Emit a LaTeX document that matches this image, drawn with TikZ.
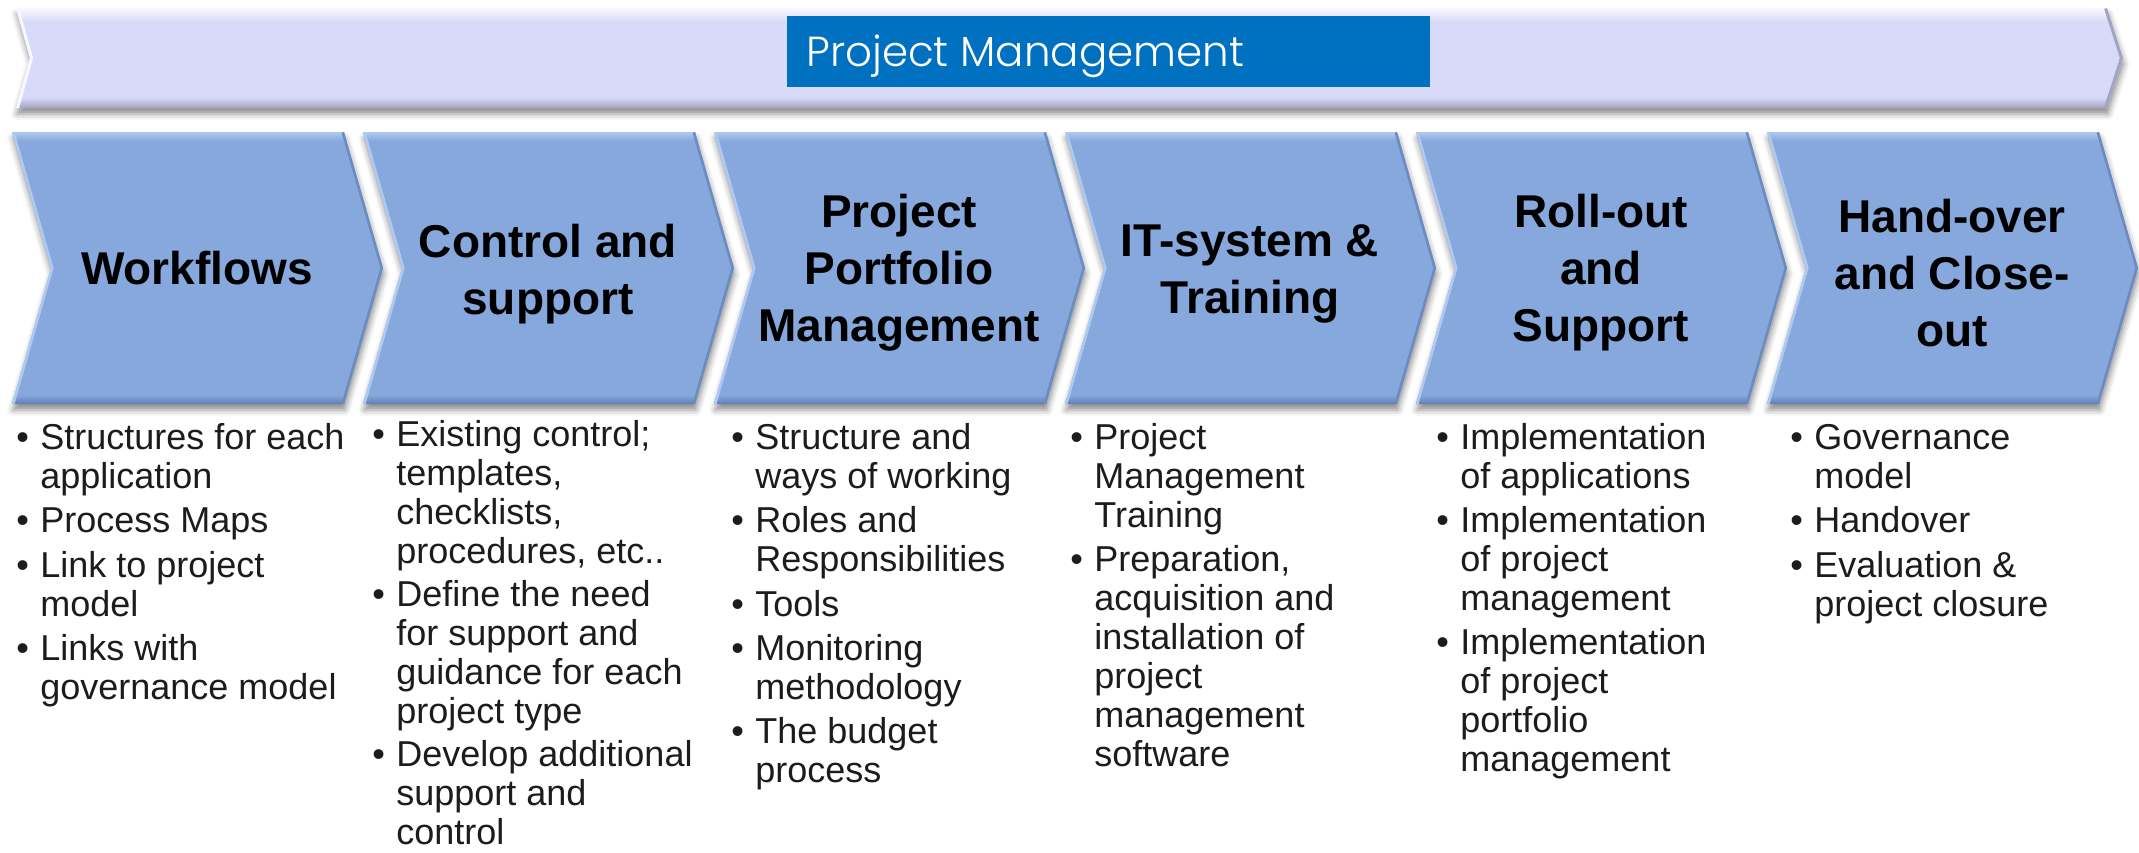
\documentclass[tikz,border=0pt]{standalone}
\usepackage{fontspec}
\setmainfont{Liberation Sans}
\newfontfamily\titlefont{Poppins Light}
\usetikzlibrary{shadows.blur}

\definecolor{chevfill}{RGB}{134,168,220}
\definecolor{chevlight}{RGB}{176,201,240}
\definecolor{chevdark}{RGB}{96,126,182}
\definecolor{bannerfill}{RGB}{217,217,250}
\definecolor{bannerlight}{RGB}{248,248,255}
\definecolor{bannerdark}{RGB}{164,164,194}
\definecolor{titleblue}{RGB}{0,112,192}
\definecolor{notetext}{RGB}{28,28,28}

\tikzset{
  stagelabel/.style={align=center, inner sep=0pt, text=black,
    font=\fontsize{23}{28.5}\selectfont\bfseries},
  notes/.style={anchor=north west, inner sep=0pt, text=notetext,
    font=\fontsize{18}{19.45}\selectfont},
  softshadow/.style={blur shadow={shadow xshift=0.5pt, shadow yshift=-3pt,
    shadow blur radius=3pt, shadow opacity=45}},
}

% one chevron of the process row, left edge at #1
\newcommand\chevronpath[1]{(#1,132) -- ++(332,0) -- ++(39,136) -- ++(-39,136)
  -- ++(-332,0) -- ++(39,-136) -- cycle}

\begin{document}
\begin{tikzpicture}[x=0.5pt,y=-0.5pt]
\useasboundingbox (0,0) rectangle (2139,852);

% banner arrow
\path[fill=bannerfill, softshadow]
  (16,8) -- (2107,8) -- (2123,58) -- (2107,108) -- (16,108) -- (30,58) -- cycle;
\begin{scope}
  \clip (16,8) -- (2107,8) -- (2123,58) -- (2107,108) -- (16,108) -- (30,58) -- cycle;
  \shade[top color=bannerlight, bottom color=bannerfill] (0,8) rectangle (2139,22);
  \shade[top color=bannerfill, bottom color=bannerdark] (0,97) rectangle (2139,108);
  \draw[bannerlight, line width=3pt] (16,8) -- (30,58) -- (16,108);
  \draw[bannerdark, line width=3pt] (2107,8) -- (2123,58) -- (2107,108);
\end{scope}

% title box
\node[fill=titleblue, inner sep=0pt, minimum width=321.5pt, minimum height=35.5pt,
  anchor=north west] (title) at (787,16) {};
\node[anchor=base west, inner sep=0pt, text=white,
  font=\titlefont\fontsize{21}{24}\selectfont] (titletext) at (806,66) {Project Management};

% process chevrons
\foreach \x in {12,363,714,1065,1416,1767} {
  \path[fill=chevfill, softshadow] \chevronpath{\x};
  \begin{scope}
    \clip \chevronpath{\x};
    \shade[top color=chevlight, bottom color=chevfill] (\x,132) rectangle (\x+371,141);
    \shade[top color=chevfill, bottom color=chevdark] (\x,395) rectangle (\x+371,404);
    \draw[chevlight, line width=2.5pt] (\x,132) -- (\x+39,268) -- (\x,404);
    \draw[chevdark!70!chevfill, line width=2.5pt] (\x+332,132) -- (\x+371,268) -- (\x+332,404);
  \end{scope}
}

\node[stagelabel] (s1) at (197,268) {Workflows};
\node[stagelabel] (s2) at (548,274) {Control and\\support};
\node[stagelabel] (s3) at (899,273) {Project\\Portfolio\\Management};
\node[stagelabel] (s4) at (1250,274) {IT-system \&\\Training};
\node[stagelabel] (s5) at (1601,273) {Roll-out\\and\\Support};
\node[stagelabel] (s6) at (1952,273) {Hand-over\\and Close-\\out};

% notes under each stage
\node[notes] (n1) at (16,422) {\begin{tabular}{@{}p{12pt}@{}l@{}}
\textbullet & Structures for each\\
 & application\\[2.7pt]
\textbullet & Process Maps\\[2.7pt]
\textbullet & Link to project\\
 & model\\[2.7pt]
\textbullet & Links with\\
 & governance model
\end{tabular}};

\node[notes] (n2) at (372,419) {\begin{tabular}{@{}p{12pt}@{}l@{}}
\textbullet & Existing control;\\
 & templates,\\
 & checklists,\\
 & procedures, etc..\\[2.2pt]
\textbullet & Define the need\\
 & for support and\\
 & guidance for each\\
 & project type\\[2.2pt]
\textbullet & Develop additional\\
 & support and\\
 & control
\end{tabular}};

\node[notes] (n3) at (731,422) {\begin{tabular}{@{}p{12pt}@{}l@{}}
\textbullet & Structure and\\
 & ways of working\\[2.7pt]
\textbullet & Roles and\\
 & Responsibilities\\[2.7pt]
\textbullet & Tools\\[2.7pt]
\textbullet & Monitoring\\
 & methodology\\[2.7pt]
\textbullet & The budget\\
 & process
\end{tabular}};

\node[notes] (n4) at (1070,422) {\begin{tabular}{@{}p{12pt}@{}l@{}}
\textbullet & Project\\
 & Management\\
 & Training\\[2.7pt]
\textbullet & Preparation,\\
 & acquisition and\\
 & installation of\\
 & project\\
 & management\\
 & software
\end{tabular}};

\node[notes] (n5) at (1436,422) {\begin{tabular}{@{}p{12pt}@{}l@{}}
\textbullet & Implementation\\
 & of applications\\[2.7pt]
\textbullet & Implementation\\
 & of project\\
 & management\\[2.7pt]
\textbullet & Implementation\\
 & of project\\
 & portfolio\\
 & management
\end{tabular}};

\node[notes] (n6) at (1790,422) {\begin{tabular}{@{}p{12pt}@{}l@{}}
\textbullet & Governance\\
 & model\\[2.7pt]
\textbullet & Handover\\[2.7pt]
\textbullet & Evaluation \&\\
 & project closure
\end{tabular}};

\end{tikzpicture}
\end{document}
